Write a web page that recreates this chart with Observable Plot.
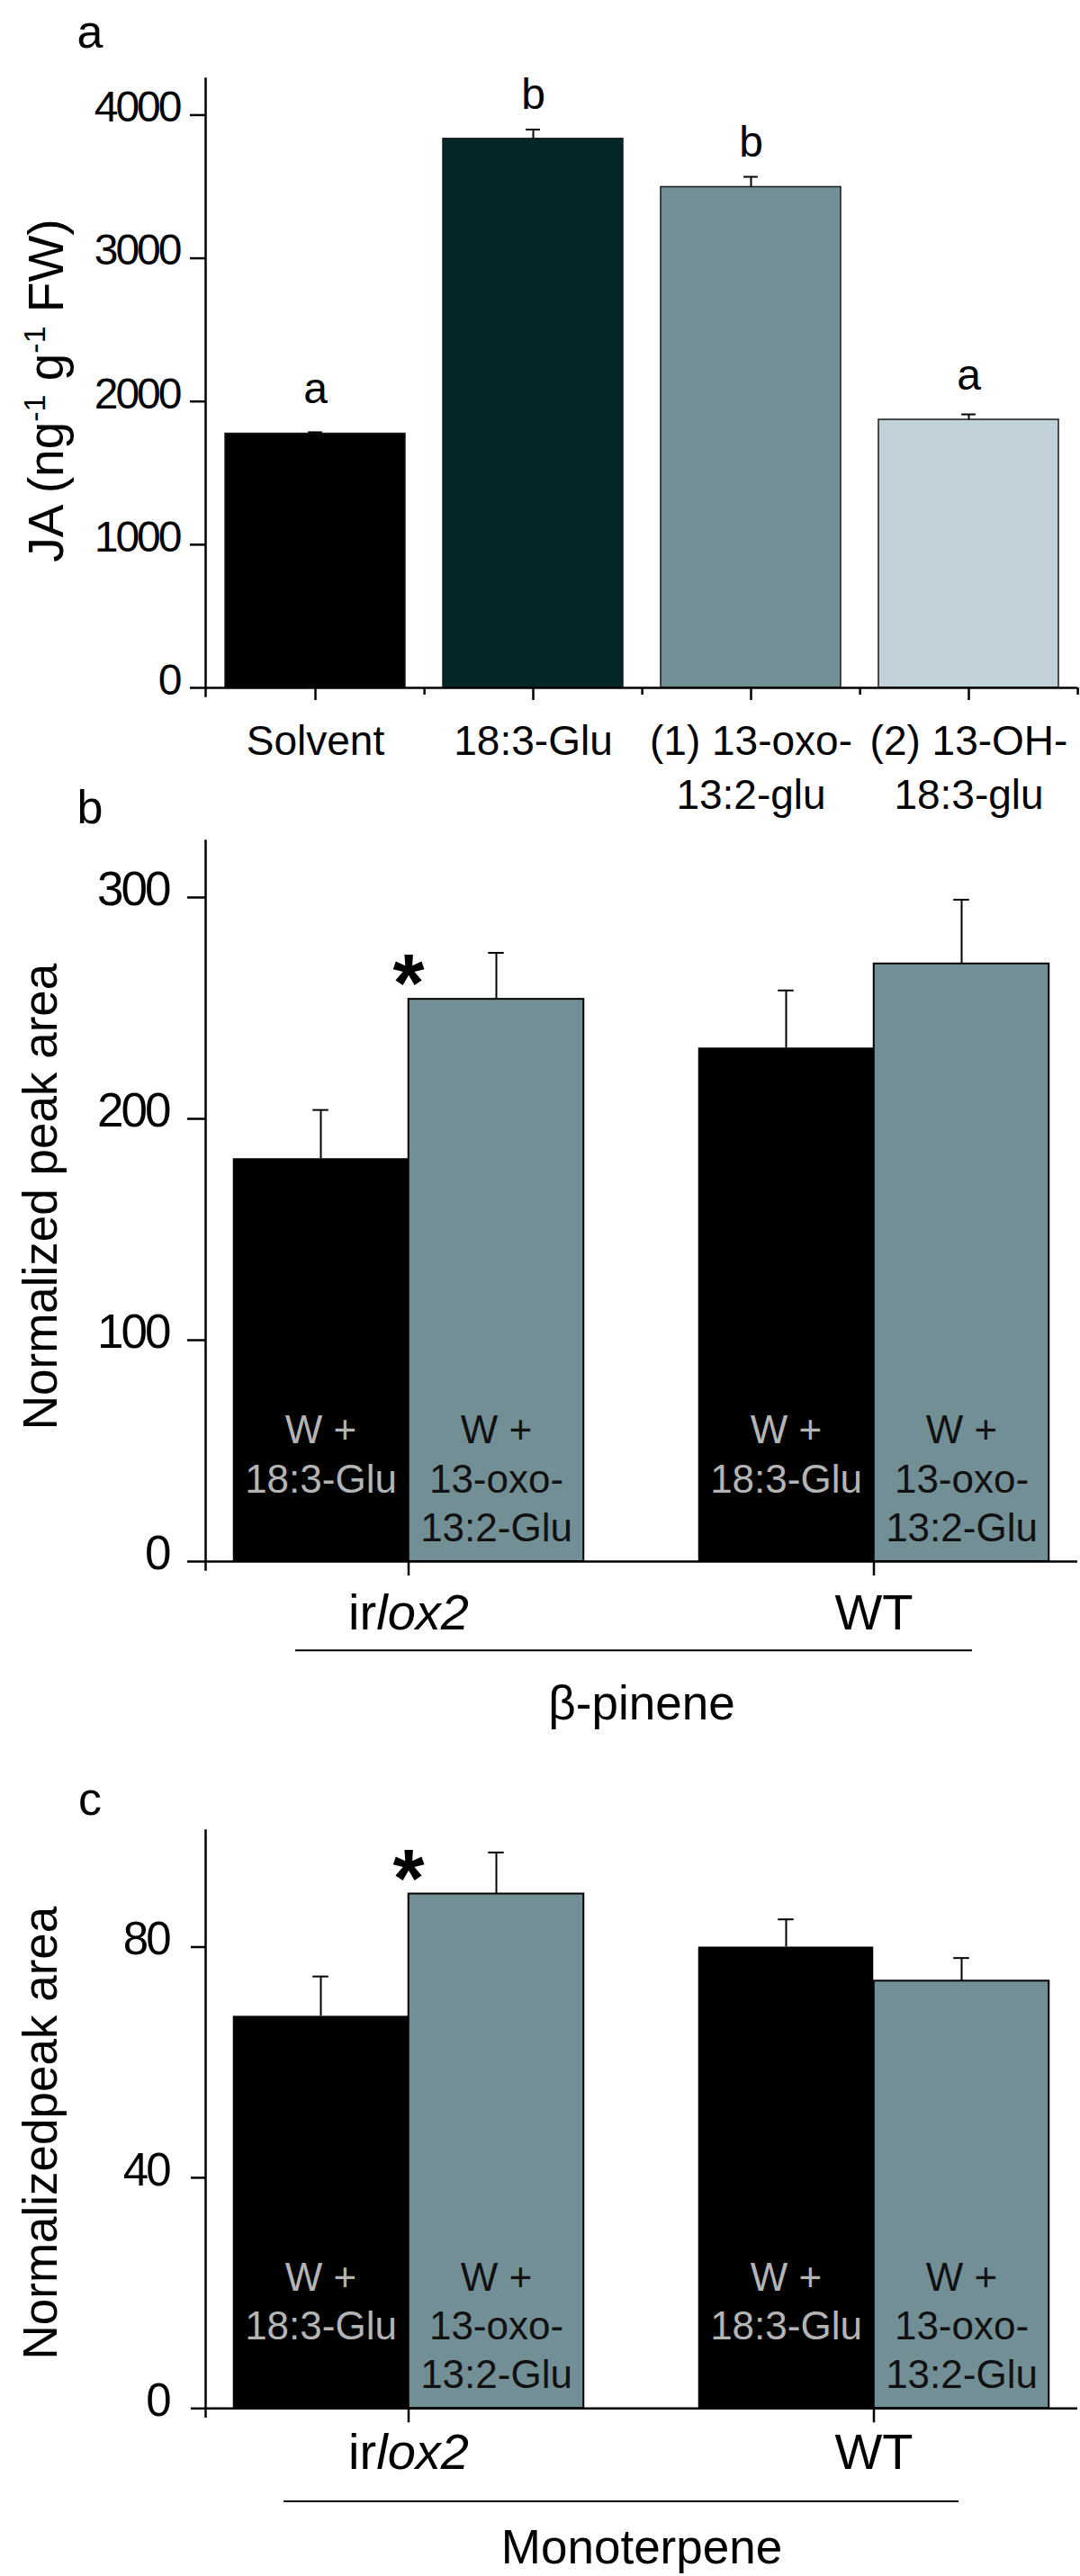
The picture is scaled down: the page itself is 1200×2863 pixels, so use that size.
<!DOCTYPE html>
<html>
<head>
<meta charset="utf-8">
<script src="https://cdn.jsdelivr.net/npm/d3@7"></script>
<script src="https://cdn.jsdelivr.net/npm/@observablehq/plot@0.6"></script>
<style>
  html, body { margin: 0; padding: 0; background: #fff; }
  #fig { position: relative; width: 1200px; height: 2863px; overflow: hidden; background: #fff; }
  #fig svg { position: absolute; left: 0; }
  g[aria-label="y-axis tick label"] text { letter-spacing: -3px; }
</style>
</head>
<body>
<div id="fig"></div>
<script>
// ---------------- Panel a data ----------------
const jaTreatments = ["Solvent", "18:3-Glu", "(1) 13-oxo-\n13:2-glu", "(2) 13-OH-\n18:3-glu"];
const jaMeans = [1775, 3834, 3497, 1872];
const jaErrors = [10, 65, 72, 38];
const jaLetters = ["a", "b", "b", "a"];
const jaColors = ["#000000", "#052628", "#738f96", "#c1d1d9"];
const jaTicks = [0, 1000, 2000, 3000, 4000];
const jaLabel = "JA (ng-1 g-1 FW)";

// ---------------- Panels b, c data ----------------
const genotypes = ["irlox2", "WT"];
const treatmentLabels = ["W +\n18:3-Glu", "W +\n13-oxo-\n13:2-Glu"];
const treatmentColors = ["#000000", "#738f96"];
const treatmentTextColors = ["#b4b4b4", "#111111"];

const pinene18Means = [182, 232];
const pinene18Err = [22, 26];
const pinene13Means = [254, 270];
const pinene13Err = [21, 29];
const pineneSig = ["*", ""];
const pineneTicks = [0, 100, 200, 300];

const mono18Means = [68, 80];
const mono18Err = [6.9, 4.8];
const mono13Means = [89.2, 74.1];
const mono13Err = [7.2, 4.0];
const monoSig = ["*", ""];
const monoTicks = [0, 40, 80];

// ---------------- layout ----------------
const FONT = "'Liberation Sans', Arial, Helvetica, sans-serif";
const W = 1200, ML = 228, MR = 3;
const baseStyle = {fontFamily: FONT, background: "transparent", overflow: "visible", color: "#000"};
const fig = document.getElementById("fig");
const NS = "http://www.w3.org/2000/svg";

function place(svg, top) {
  svg.style.position = "absolute";
  svg.style.top = top + "px";
  svg.style.left = "0px";
  fig.append(svg);
}

function tspan(text, attrs = {}) {
  const t = document.createElementNS(NS, "tspan");
  t.textContent = text;
  for (const k in attrs) t.setAttribute(k, attrs[k]);
  return t;
}

function postProcess(svg) {
  svg.querySelectorAll("text").forEach(t => {
    if (t.children.length) return;
    if (t.textContent === "irlox2") {
      t.textContent = "";
      t.append(tspan("ir"), tspan("lox2", {"font-style": "italic"}));
    } else if (t.textContent === jaLabel) {
      t.textContent = "";
      t.append(
        tspan("JA (ng"),
        tspan("-1", {"font-size": "34", dy: "-20"}),
        tspan(" g", {dy: "20"}),
        tspan("-1", {"font-size": "34", dy: "-20"}),
        tspan(" FW)", {dy: "20"})
      );
    }
  });
}

// ---------------- Panel a ----------------
const stepA = (W - ML - MR) / jaTreatments.length;
const jaRows = jaTreatments.map((t, i) => ({t, mean: jaMeans[i], err: jaErrors[i], letter: jaLetters[i]}));

const svgA = Plot.plot({
  width: W, height: 880,
  marginLeft: ML, marginRight: MR, marginTop: 87, marginBottom: 116,
  style: baseStyle,
  x: {domain: jaTreatments, padding: 0},
  y: {domain: [0, 4254]},
  color: {domain: jaTreatments, range: jaColors},
  marks: [
    Plot.barY(jaRows, {x: "t", y: "mean", fill: "t", stroke: "#1a1a1a", strokeWidth: 1.5, insetLeft: 21, insetRight: 21}),
    Plot.ruleX(jaRows, {x: "t", y1: "mean", y2: d => d.mean + d.err, stroke: "#000", strokeWidth: 2}),
    Plot.tickY(jaRows, {x: "t", y: d => d.mean + d.err, insetLeft: stepA / 2 - 8, insetRight: stepA / 2 - 8, stroke: "#000", strokeWidth: 2}),
    Plot.text(jaRows, {x: "t", y: "mean", text: "letter", dy: -49, fontSize: 48, lineAnchor: "middle"}),
    Plot.frame({anchor: "left", strokeWidth: 2.5, insetBottom: -9}),
    Plot.ruleY([0], {strokeWidth: 2.5}),
    Plot.axisY({ticks: jaTicks, tickSize: 17, fill: "none", strokeWidth: 2.5, label: null}),
    Plot.axisY({ticks: jaTicks, tickSize: 0, tickPadding: 29, dy: -8, fontSize: 48, label: null, tickFormat: d => String(d)}),
    Plot.axisX({tickSize: 14, fill: "none", strokeWidth: 2.5, label: null}),
    Plot.axisX({tickSize: 8, fill: "none", strokeWidth: 2.5, dx: stepA / 2, label: null}),
    Plot.text(jaTreatments, {x: d => d, text: d => d, frameAnchor: "bottom", textAnchor: "middle", lineAnchor: "top", dy: 32, fontSize: 46, lineHeight: 1.3}),
    Plot.text([jaLabel], {frameAnchor: "left", rotate: -90, textAnchor: "middle", lineAnchor: "middle", dx: -176, dy: 8, fontSize: 55, text: d => d}),
    Plot.text(["a"], {frameAnchor: "top-left", textAnchor: "middle", lineAnchor: "middle", dx: -128.5, dy: -51, fontSize: 52, text: d => d})
  ]
});
postProcess(svgA);
place(svgA, 0);

// ---------------- Panels b, c ----------------
function grouped(o) {
  const xRange = [194, 1229];
  const step = (xRange[1] - xRange[0]) / genotypes.length;
  const barW = 195;
  const capHalf = 9;
  const rows = [
    genotypes.map((g, i) => ({g, mean: o.m18[i], err: o.e18[i], sig: o.sig[i]})),
    genotypes.map((g, i) => ({g, mean: o.m13[i], err: o.e13[i], sig: o.sig[i]}))
  ];
  const insets = [
    {insetLeft: step / 2 - barW, insetRight: step / 2},
    {insetLeft: step / 2, insetRight: step / 2 - barW}
  ];
  const off = [-barW / 2, barW / 2];
  const marks = [];
  rows.forEach((r, k) => {
    marks.push(
      Plot.barY(r, {x: "g", y: "mean", fill: treatmentColors[k], stroke: k ? "#000" : "none", strokeWidth: 2, ...insets[k]}),
      Plot.ruleX(r, {x: "g", y1: "mean", y2: d => d.mean + d.err, dx: off[k], stroke: "#000", strokeWidth: 2}),
      Plot.tickY(r, {x: "g", y: d => d.mean + d.err, insetLeft: step / 2 + off[k] - capHalf, insetRight: step / 2 - off[k] - capHalf, stroke: "#000", strokeWidth: 2}),
      Plot.text(r, {x: "g", text: () => treatmentLabels[k], frameAnchor: "bottom", textAnchor: "middle", lineAnchor: "top", dx: off[k], dy: o.textDy, fontSize: 44, lineHeight: 1.23, fill: treatmentTextColors[k]})
    );
  });
  marks.push(
    Plot.text(rows[1], {x: "g", y: "mean", text: "sig", dy: -15, fontSize: 90, fontWeight: "bold", lineAnchor: "middle"}),
    Plot.frame({anchor: "left", strokeWidth: 2.5, insetBottom: -9}),
    Plot.ruleY([0], {strokeWidth: 2.5}),
    Plot.axisY({ticks: o.ticks, tickSize: o.tickSizeY, fill: "none", strokeWidth: 2.5, label: null}),
    Plot.axisY({ticks: o.ticks, tickSize: 0, tickPadding: o.tickSizeY + o.tickPadY, dy: -8, fontSize: o.tickFontY, label: null, tickFormat: d => String(d)}),
    Plot.axisX({tickSize: 16, fill: "none", strokeWidth: 2.5, label: null}),
    Plot.axisX({tickSize: 0, tickPadding: o.tickPadX, fontSize: 56, label: null}),
    Plot.ruleY([0], {dy: o.lineDy, insetLeft: o.lineInsetL, insetRight: o.lineInsetR, strokeWidth: 2}),
    Plot.text([o.caption], {frameAnchor: "bottom", textAnchor: "middle", lineAnchor: "middle", dy: o.captionDy, fontSize: 53, text: d => d}),
    Plot.text([o.yTitle], {frameAnchor: "left", rotate: -90, textAnchor: "middle", lineAnchor: "middle", dx: -182, dy: o.yTitleDy, fontSize: 53, text: d => d}),
    Plot.text([o.letter], {frameAnchor: "top-left", textAnchor: "middle", lineAnchor: "middle", dx: -128.5, dy: o.letterDy, fontSize: 52, text: d => d})
  );
  const svg = Plot.plot({
    width: W, height: o.height,
    marginLeft: ML, marginRight: MR, marginTop: o.marginTop, marginBottom: o.marginBottom,
    style: baseStyle,
    x: {domain: genotypes, range: xRange, padding: 0},
    y: {domain: o.yDomain},
    marks
  });
  postProcess(svg);
  place(svg, o.top);
}

grouped({
  top: 880, height: 1070, marginTop: 54, marginBottom: 215,
  yDomain: [0, 325.6], ticks: pineneTicks,
  m18: pinene18Means, e18: pinene18Err, m13: pinene13Means, e13: pinene13Err, sig: pineneSig,
  tickSizeY: 20, tickPadY: 21, tickFontY: 53, tickPadX: 36,
  textDy: -169.5,
  lineDy: 98.7, lineInsetL: 100, lineInsetR: 117,
  caption: "β-pinene", captionDy: 159,
  yTitle: "Normalized peak area", yTitleDy: -5,
  letter: "b", letterDy: -36
});

grouped({
  top: 1950, height: 913, marginTop: 84, marginBottom: 186.7,
  yDomain: [0, 100.2], ticks: monoTicks,
  m18: mono18Means, e18: mono18Err, m13: mono13Means, e13: mono13Err, sig: monoSig,
  tickSizeY: 16, tickPadY: 25, tickFontY: 51, tickPadX: 27,
  textDy: -169,
  lineDy: 103.3, lineInsetL: 87, lineInsetR: 132,
  caption: "Monoterpene", captionDy: 155,
  yTitle: "Normalizedpeak area", yTitleDy: 15,
  letter: "c", letterDy: -34
});
</script>
</body>
</html>
